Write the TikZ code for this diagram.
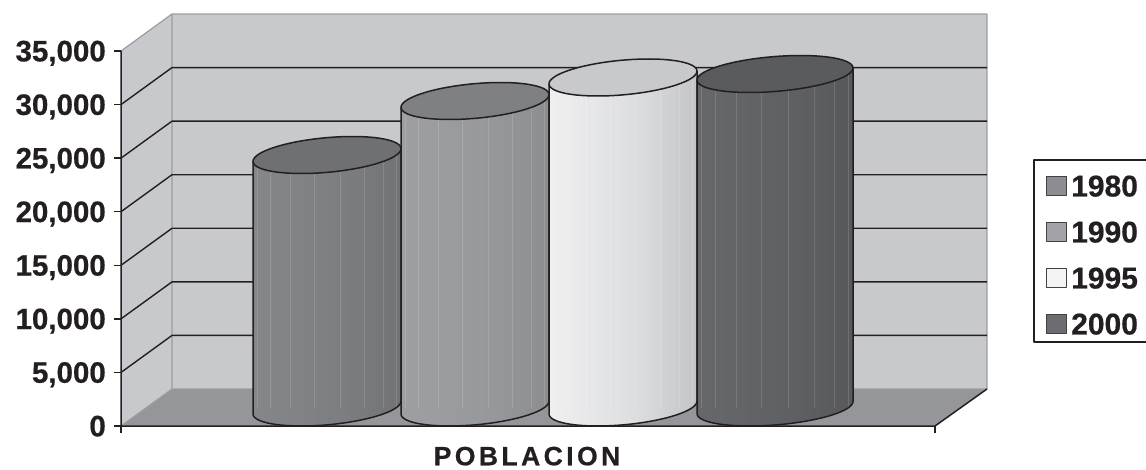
\documentclass[tikz,border=0pt]{standalone}
\usepackage{fontspec}
\setmainfont{Liberation Sans}
\definecolor{txt}{HTML}{231F20}
\definecolor{wallc}{HTML}{C8C9CD}
\definecolor{wallline}{HTML}{9C9DA1}
\definecolor{floorc}{HTML}{95969A}
\definecolor{c1a}{HTML}{7F8084}\definecolor{c1b}{HTML}{8A8B8F}\definecolor{c1c}{HTML}{7D7E82}\definecolor{c1d}{HTML}{636468}
\definecolor{c2a}{HTML}{939498}\definecolor{c2b}{HTML}{A2A3A7}\definecolor{c2c}{HTML}{97989C}\definecolor{c2d}{HTML}{7E7F83}
\definecolor{c3a}{HTML}{E6E6E6}\definecolor{c3b}{HTML}{FAFAFA}\definecolor{c3c}{HTML}{DCDDDF}\definecolor{c3d}{HTML}{A3A5A8}
\definecolor{c4a}{HTML}{606165}\definecolor{c4b}{HTML}{6B6C70}\definecolor{c4c}{HTML}{5F6064}\definecolor{c4d}{HTML}{4E4F53}
\definecolor{t1}{HTML}{6F7074}\definecolor{t2}{HTML}{7F8084}\definecolor{t3}{HTML}{C8C9CC}\definecolor{t4}{HTML}{5A5B5F}
\definecolor{l1}{HTML}{8C8D91}\definecolor{l2}{HTML}{A2A3A7}\definecolor{l3}{HTML}{F4F4F4}\definecolor{l4}{HTML}{6C6D71}
\pgfdeclarehorizontalshading{shA}{100bp}{color(0bp)=(c1a); color(8bp)=(c1b); color(55bp)=(c1c); color(100bp)=(c1d)}
\pgfdeclarehorizontalshading{shB}{100bp}{color(0bp)=(c2a); color(8bp)=(c2b); color(55bp)=(c2c); color(100bp)=(c2d)}
\pgfdeclarehorizontalshading{shC}{100bp}{color(0bp)=(c3a); color(8bp)=(c3b); color(55bp)=(c3c); color(100bp)=(c3d)}
\pgfdeclarehorizontalshading{shD}{100bp}{color(0bp)=(c4a); color(8bp)=(c4b); color(55bp)=(c4c); color(100bp)=(c4d)}
\newcommand{\drawcyl}[5]{%
  \pgfmathsetmacro{\cyX}{(#1+#2)/2}%
  \pgfmathsetmacro{\cyW}{(#2-#1)/2}%
  \pgfmathsetmacro{\cyA}{sqrt(\cyW*\cyW-25.5*25.5)}%
  \pgfmathsetmacro{\cyP}{atan(25.5/\cyA)}%
  \pgfmathsetmacro{\cyD}{18.5*sin(\cyP)}%
  \pgfmathsetmacro{\cyB}{407.5}%
  \pgfmathsetmacro{\cyT}{#3}%
  \path[shading=#4] (#1,\cyT+\cyD) -- (#1,\cyB+\cyD)
     -- plot[domain=180+\cyP:360+\cyP, samples=60, variable=\t] ({\cyX+\cyA*cos(\t)+25.5*sin(\t)},{\cyB-18.5*sin(\t)})
     -- (#2,\cyT-\cyD) -- cycle;
  \foreach \k in {1,...,8}{
    \draw[white, opacity=.14, line width=.6pt] ({\cyX-\cyW*cos(\k*20)},\cyT) -- ({\cyX-\cyW*cos(\k*20)},\cyB);
  }
  \draw[outl] (#1,\cyT+\cyD) -- (#1,\cyB+\cyD)
     -- plot[domain=180+\cyP:360+\cyP, samples=60, variable=\t] ({\cyX+\cyA*cos(\t)+25.5*sin(\t)},{\cyB-18.5*sin(\t)})
     -- (#2,\cyT-\cyD);
  \draw[outl, fill=#5] plot[domain=0:360, samples=90, variable=\t] ({\cyX+\cyA*cos(\t)+25.5*sin(\t)},{\cyT-18.5*sin(\t)}) -- cycle;
}
\begin{document}
\begin{tikzpicture}[x=1pt,y=-1pt,line join=round,
  grid/.style={line width=1.4pt, draw=txt},
  outl/.style={draw=txt, line width=1.5pt},
  ylab/.style={anchor=east, inner sep=0pt, text depth=0pt, text=txt, font=\fontsize{29.5}{30}\selectfont\bfseries\addfontfeatures{FakeBold=0.6}},
  leglab/.style={anchor=west, inner sep=0pt, text depth=0pt, text=txt, font=\fontsize{30}{30}\selectfont\bfseries\addfontfeatures{FakeBold=0.6}},
  legsq/.style={draw=txt!85, line width=1.1pt, minimum width=20pt, minimum height=19pt, inner sep=0pt},
  titlef/.style={inner sep=0pt, text depth=0pt, text=txt, font=\fontsize{26.5}{27}\selectfont\bfseries\addfontfeatures{LetterSpace=13,FakeBold=0.6}}]
\useasboundingbox (0,0) rectangle (1146,470);
\fill[white] (0,0) rectangle (1146,470);
\coordinate (FL) at (121,426);
\coordinate (BL) at (172,389);
\coordinate (BR) at (987,389);
\coordinate (FR) at (935,426);
\coordinate (TL) at (121,51);
\coordinate (TBL) at (172,14);
\coordinate (TBR) at (987,14);
% walls
\fill[wallc] (FL) -- (TL) -- (TBL) -- (BL) -- cycle;
\fill[wallc] (BL) -- (TBL) -- (TBR) -- (BR) -- cycle;
\fill[floorc] (FL) -- (BL) -- (BR) -- (FR) -- cycle;
\draw[wallline, line width=1.2pt] (TL) -- (TBL) -- (TBR) -- (BR) -- (BL) -- (TBL);
\draw[wallline, line width=1.2pt] (FL) -- (BL);
% grid lines
\foreach \i in {1,...,6}{
  \draw[grid] (121,426-\i*53.57) -- (172,389-\i*53.57) -- (987,389-\i*53.57);
}
% axes
\draw[txt, line width=1.5pt] (TL) -- (FL) -- (FR) -- (BR);
\foreach \i/\lab in {0/0,1/{5,000},2/{10,000},3/{15,000},4/{20,000},5/{25,000},6/{30,000},7/{35,000}}{
  \draw[txt, line width=1.4pt] (114,426-\i*53.57) -- (121,426-\i*53.57);
  \node[ylab] (y\i) at (106,426-\i*53.57) {\lab};
}
\draw[txt, line width=1.4pt] (FL) -- ++(0,7);
\draw[txt, line width=1.4pt] (FR) -- ++(0,7);
% cylinders
\drawcyl{253}{401}{155}{shA}{t1}
\drawcyl{401}{549}{101}{shB}{t2}
\drawcyl{549}{697}{77.5}{shC}{t3}
\drawcyl{697}{853}{74}{shD}{t4}
% title
\node[titlef] (title) at (527,456) {POBLACION};
% legend
\draw[txt, line width=1.2pt, fill=white] (1034,160) rectangle (1175,342);
\foreach \n/\yy/\c/\lab in {a/186/l1/1980, b/232/l2/1990, c/278/l3/1995, d/324/l4/2000}{
  \node[legsq, fill=\c] (sq\n) at (1056.5,\yy) {};
  \node[leglab] (lt\n) at (1071,\yy) {\lab};
}
\end{tikzpicture}
\end{document}
